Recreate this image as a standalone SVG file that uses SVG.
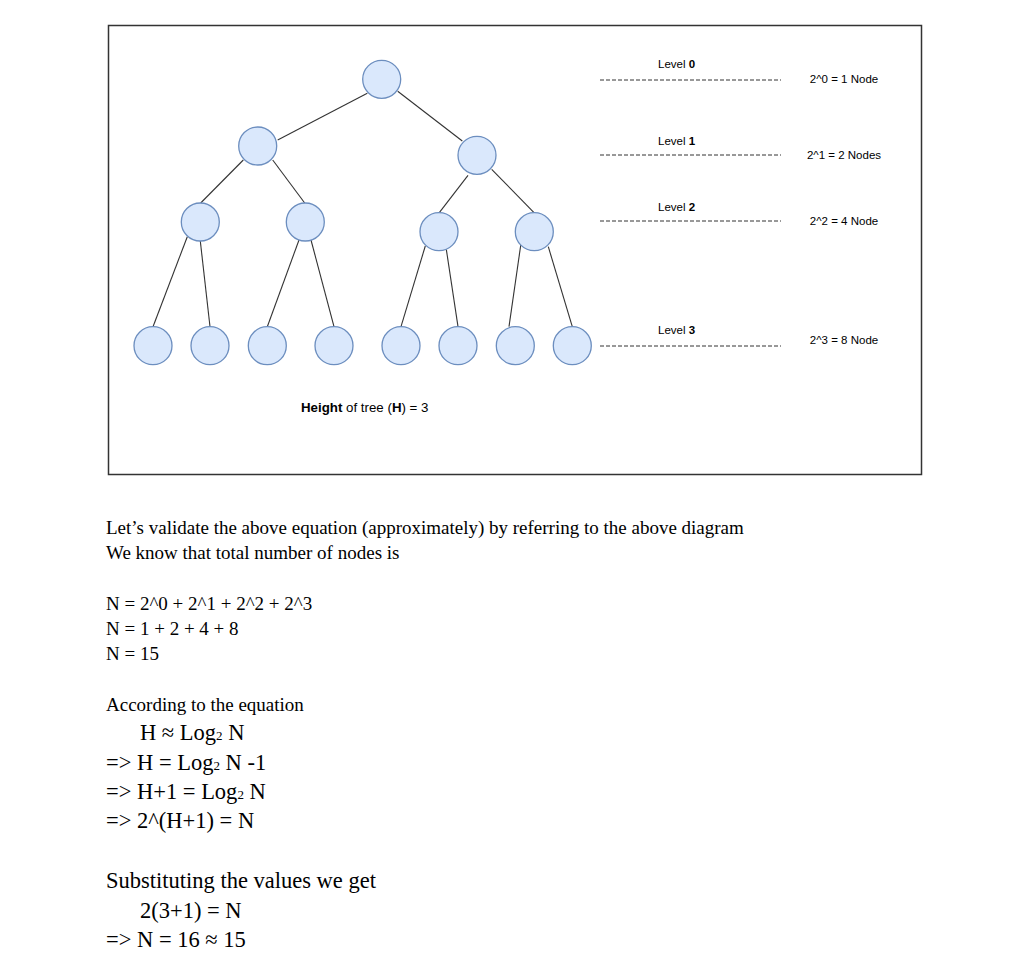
<svg xmlns="http://www.w3.org/2000/svg" width="1016" height="972" viewBox="0 0 1016 972">
<style>
.node{fill:#dae8fc;stroke:#6c8ebf;stroke-width:1.3}
.edge{stroke:#333;stroke-width:1.1;fill:none}
.dash{stroke:#333;stroke-width:1;stroke-dasharray:4 2;fill:none}
.sans{font-family:"Liberation Sans",Arial,sans-serif;font-size:11.5px;fill:#000}
.serif{font-family:"Liberation Serif","Times New Roman",serif;font-size:19px;fill:#000}
.big{font-size:22.5px}
.sub{font-size:13px}
</style>
<rect x="108.5" y="25.5" width="813" height="449" fill="#fff" stroke="#333" stroke-width="1.5"/>
<g id="connectors">
<line class="edge" x1="367.3" y1="93.3" x2="277.7" y2="140"/>
<line class="edge" x1="397.7" y1="91.3" x2="462.3" y2="141"/>
<line class="edge" x1="243.3" y1="160" x2="200.7" y2="203"/>
<line class="edge" x1="272.7" y1="160" x2="304.7" y2="203"/>
<line class="edge" x1="468" y1="175.3" x2="439.3" y2="212.7"/>
<line class="edge" x1="491.7" y1="169.3" x2="534" y2="212.7"/>
<line class="edge" x1="187.3" y1="236.7" x2="153" y2="326.7"/>
<line class="edge" x1="200.3" y1="241" x2="210" y2="326.7"/>
<line class="edge" x1="299" y1="240" x2="267.3" y2="326.7"/>
<line class="edge" x1="311" y1="240" x2="334" y2="326.7"/>
<line class="edge" x1="425.3" y1="246" x2="401" y2="326.7"/>
<line class="edge" x1="446.3" y1="249.3" x2="458" y2="326.7"/>
<line class="edge" x1="521" y1="243.3" x2="509" y2="326.7"/>
<line class="edge" x1="548.3" y1="246.7" x2="572.3" y2="326.7"/>
</g>
<g id="n0"><circle class="node" cx="381.7" cy="79.3" r="19"/></g>
<g id="n1"><circle class="node" cx="257.7" cy="146" r="19"/></g>
<g id="n2"><circle class="node" cx="477" cy="155.3" r="19"/></g>
<g id="n3"><circle class="node" cx="200.3" cy="222" r="19"/></g>
<g id="n4"><circle class="node" cx="305.3" cy="222" r="19"/></g>
<g id="n5"><circle class="node" cx="439" cy="231.7" r="19"/></g>
<g id="n6"><circle class="node" cx="534.3" cy="231.7" r="19"/></g>
<g id="n7"><circle class="node" cx="153" cy="345.7" r="19"/></g>
<g id="n8"><circle class="node" cx="210" cy="345.7" r="19"/></g>
<g id="n9"><circle class="node" cx="267.3" cy="345.7" r="19"/></g>
<g id="n10"><circle class="node" cx="334" cy="345.7" r="19"/></g>
<g id="n11"><circle class="node" cx="401" cy="345.7" r="19"/></g>
<g id="n12"><circle class="node" cx="458" cy="345.7" r="19"/></g>
<g id="n13"><circle class="node" cx="515.3" cy="345.7" r="19"/></g>
<g id="n14"><circle class="node" cx="572.3" cy="345.7" r="19"/></g>
<g id="levels">
<line class="dash" x1="600" y1="80" x2="781" y2="80"/>
<line class="dash" x1="600" y1="155" x2="781" y2="155"/>
<line class="dash" x1="600" y1="221" x2="781" y2="221"/>
<line class="dash" x1="600" y1="346" x2="781" y2="346"/>
<text class="sans" x="658" y="68">Level <tspan font-weight="bold">0</tspan></text>
<text class="sans" x="658" y="145">Level <tspan font-weight="bold">1</tspan></text>
<text class="sans" x="658" y="211">Level <tspan font-weight="bold">2</tspan></text>
<text class="sans" x="658" y="334">Level <tspan font-weight="bold">3</tspan></text>
<text class="sans" x="844" y="83" text-anchor="middle">2^0 = 1 Node</text>
<text class="sans" x="844" y="159" text-anchor="middle">2^1 = 2 Nodes</text>
<text class="sans" x="844" y="225" text-anchor="middle">2^2 = 4 Node</text>
<text class="sans" x="844" y="344" text-anchor="middle">2^3 = 8 Node</text>
<text class="sans" x="301" y="412" style="font-size:13.3px"><tspan font-weight="bold">Height</tspan> of tree (<tspan font-weight="bold">H</tspan>) = 3</text>
</g>
<g id="text">
<text class="serif" x="106" y="534">Let’s validate the above equation (approximately) by referring to the above diagram</text>
<text class="serif" x="106" y="559">We know that total number of nodes is</text>
<text class="serif" x="106" y="610">N = 2^0 + 2^1 + 2^2 + 2^3</text>
<text class="serif" x="106" y="635">N = 1 + 2 + 4 + 8</text>
<text class="serif" x="106" y="660">N = 15</text>
<text class="serif" x="106" y="711">According to the equation</text>
<text class="serif big" x="140" y="740">H ≈ Log<tspan class="sub">2</tspan> N</text>
<text class="serif big" x="106" y="770">=&gt; H = Log<tspan class="sub">2</tspan> N -1</text>
<text class="serif big" x="106" y="799">=&gt; H+1 = Log<tspan class="sub">2</tspan> N</text>
<text class="serif big" x="106" y="828">=&gt; 2^(H+1) = N</text>
<text class="serif big" x="106" y="888">Substituting the values we get</text>
<text class="serif big" x="140" y="918">2(3+1) = N</text>
<text class="serif big" x="106" y="947">=&gt; N = 16 ≈ 15</text>
</g>
</svg>
